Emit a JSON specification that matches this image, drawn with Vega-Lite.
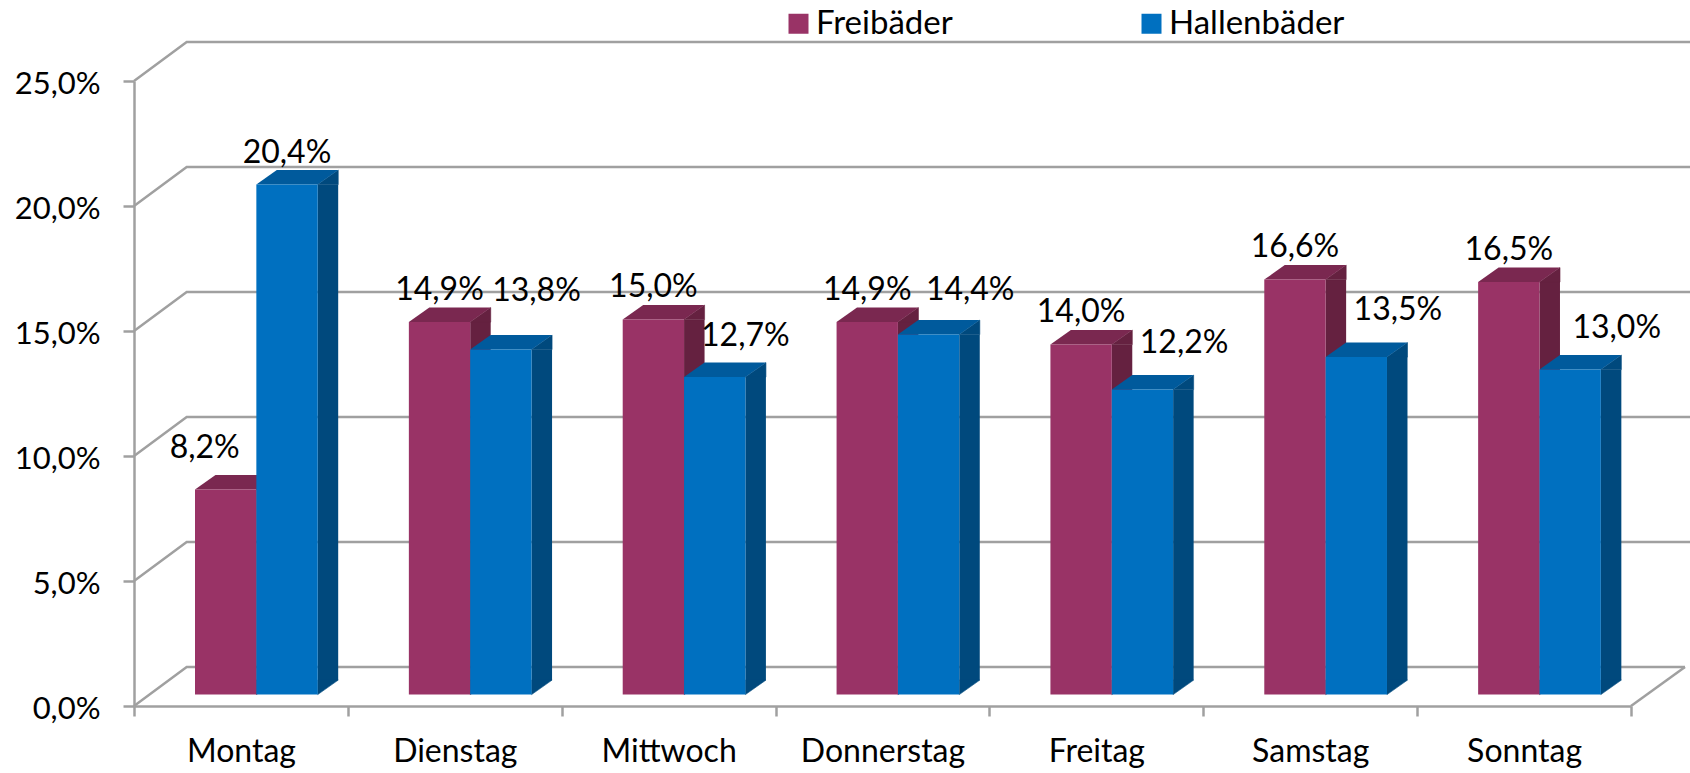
{
"$schema":"https://vega.github.io/schema/vega-lite/v6.json",
"width":1497,"height":625,
"autosize":{"type":"none"},
"padding":{"left":134,"right":59,"top":81,"bottom":67},
"background":"white",
"config":{"view":{"stroke":null},"font":"Lato"},
"data":{"values":[
{"day":"Montag","series":"Freibäder","share":8.2,"label":"8,2%"},
{"day":"Montag","series":"Hallenbäder","share":20.4,"label":"20,4%"},
{"day":"Dienstag","series":"Freibäder","share":14.9,"label":"14,9%"},
{"day":"Dienstag","series":"Hallenbäder","share":13.8,"label":"13,8%"},
{"day":"Mittwoch","series":"Freibäder","share":15.0,"label":"15,0%"},
{"day":"Mittwoch","series":"Hallenbäder","share":12.7,"label":"12,7%"},
{"day":"Donnerstag","series":"Freibäder","share":14.9,"label":"14,9%"},
{"day":"Donnerstag","series":"Hallenbäder","share":14.4,"label":"14,4%"},
{"day":"Freitag","series":"Freibäder","share":14.0,"label":"14,0%"},
{"day":"Freitag","series":"Hallenbäder","share":12.2,"label":"12,2%"},
{"day":"Samstag","series":"Freibäder","share":16.6,"label":"16,6%"},
{"day":"Samstag","series":"Hallenbäder","share":13.5,"label":"13,5%"},
{"day":"Sonntag","series":"Freibäder","share":16.5,"label":"16,5%"},
{"day":"Sonntag","series":"Hallenbäder","share":13.0,"label":"13,0%"}
]},
"encoding":{
"x":{"field":"day","type":"nominal","sort":null,"title":null,
 "scale":{"domain":["Montag","Dienstag","Mittwoch","Donnerstag","Freitag","Samstag","Sonntag"],"paddingInner":0,"paddingOuter":0},
 "axis":{"labelAngle":0,"labelFontSize":32,"labelColor":"black","labelPadding":20,"tickBand":"extent","tickSize":10,"tickWidth":2.5,"tickColor":"#A0A0A0","domainColor":"#A0A0A0","domainWidth":2.5,"grid":false}},
"y":{"field":"share","type":"quantitative","title":null,
 "scale":{"domain":[0,25],"nice":false},
 "axis":{"values":[0,5,10,15,20,25],"labelExpr":"replace(format(datum.value,'.1f'),'.',',')+'%'","labelFontSize":31,"labelColor":"black","labelPadding":23,"labelOffset":3,"tickSize":11,"tickWidth":2.5,"tickColor":"#A0A0A0","domainColor":"#A0A0A0","domainWidth":2.5,"grid":false}},
"xOffset":{"field":"series","type":"nominal","sort":null,"scale":{"type":"band","domain":["Freibäder","Hallenbäder"],"range":[61,183.7],"paddingInner":0,"paddingOuter":0}}
},
"layer":[
{"data":{"values":[{"share":5},{"share":10},{"share":15},{"share":20},{"share":25}]},
 "mark":{"type":"point","shape":"M0,0 L52.7,-39 L1556,-39","size":4,"filled":false,"stroke":"#A0A0A0","strokeWidth":2.5,"opacity":1},
 "encoding":{"x":{"datum":"Montag","type":"nominal","bandPosition":0},"xOffset":null}},
{"data":{"values":[{"share":0}]},
 "mark":{"type":"point","shape":"M0,0 L52.7,-39 L1551,-39","size":4,"filled":false,"stroke":"#A0A0A0","strokeWidth":2.5,"opacity":1},
 "encoding":{"x":{"datum":"Montag","type":"nominal","bandPosition":0},"xOffset":null}},
{"data":{"values":[{"share":0}]},
 "mark":{"type":"point","shape":"M0,0 L54,-39","size":4,"filled":false,"stroke":"#A0A0A0","strokeWidth":2.5,"opacity":1},
 "encoding":{"x":{"datum":"Sonntag","type":"nominal","bandPosition":1},"xOffset":null}},

{"transform":[{"filter":"datum.series==='Freibäder'"}],"mark":{"type":"rule","strokeWidth":20.5,"yOffset":-11.4,"y2Offset":-25.9,"stroke":"#652140"},
 "encoding":{"x":{"field":"day","type":"nominal","bandPosition":0.62},"xOffset":null,"y2":{"datum":0}}},
{"transform":[{"filter":"datum.series==='Freibäder'"}],"mark":{"type":"point","shape":"M30.7,0 L51.2,-14.5 L51.2,0 Z","size":4,"filled":true,"fill":"#652140","stroke":"#652140","strokeWidth":0.6,"opacity":1,"yOffset":-11.4}},
{"transform":[{"filter":"datum.series==='Freibäder'"}],"mark":{"type":"point","shape":"M30.7,0 L51.2,-14.5 L30.7,-14.5 Z","size":4,"filled":true,"fill":"#652140","stroke":"#652140","strokeWidth":0.6,"opacity":1,"yOffset":-11.4},
 "encoding":{"y":{"datum":0}}},
{"transform":[{"filter":"datum.series==='Freibäder'"}],"mark":{"type":"point","shape":"M-30.7,0 L30.7,0 L51.2,-14.5 L-10.2,-14.5 Z","size":4,"filled":true,"fill":"#7A2850","strokeWidth":0,"opacity":1,"yOffset":-11.4}},

{"transform":[{"filter":"datum.series==='Hallenbäder'"}],"mark":{"type":"rule","strokeWidth":20.5,"yOffset":-11.4,"y2Offset":-25.9,"stroke":"#00497D"},
 "encoding":{"x":{"field":"day","type":"nominal","bandPosition":0.9069},"xOffset":null,"y2":{"datum":0}}},
{"transform":[{"filter":"datum.series==='Hallenbäder'"}],"mark":{"type":"point","shape":"M30.7,0 L51.2,-14.5 L51.2,0 Z","size":4,"filled":true,"fill":"#00497D","stroke":"#00497D","strokeWidth":0.6,"opacity":1,"yOffset":-11.4}},
{"transform":[{"filter":"datum.series==='Hallenbäder'"}],"mark":{"type":"point","shape":"M30.7,0 L51.2,-14.5 L30.7,-14.5 Z","size":4,"filled":true,"fill":"#00497D","stroke":"#00497D","strokeWidth":0.6,"opacity":1,"yOffset":-11.4},
 "encoding":{"y":{"datum":0}}},
{"transform":[{"filter":"datum.series==='Hallenbäder'"}],"mark":{"type":"point","shape":"M-30.7,0 L30.7,0 L51.2,-14.5 L-10.2,-14.5 Z","size":4,"filled":true,"fill":"#005A9C","strokeWidth":0,"opacity":1,"yOffset":-11.4}},

{"mark":{"type":"bar","yOffset":-11.4,"y2Offset":-11.4},
 "encoding":{"y2":{"datum":0},
 "color":{"field":"series","type":"nominal","sort":null,"scale":{"domain":["Freibäder","Hallenbäder"],"range":["#993366","#0070C0"]},
 "legend":{"title":null,"orient":"none","direction":"horizontal","legendX":648,"legendY":-74,"symbolType":"square","symbolSize":400,"symbolStrokeWidth":0,"labelFontSize":33,"labelColor":"black","labelLimit":400,"labelOffset":1,"columnPadding":182,"padding":0,"columns":2}}}},

{"transform":[{"filter":"datum.series==='Freibäder' && datum.day!=='Montag'"}],"mark":{"type":"text","fontSize":32,"color":"black","baseline":"middle","align":"center","dx":0,"dy":-44},"encoding":{"text":{"field":"label"}}},
{"transform":[{"filter":"datum.series==='Freibäder' && datum.day==='Montag'"}],"mark":{"type":"text","fontSize":32,"color":"black","baseline":"middle","align":"center","dx":-21,"dy":-53},"encoding":{"text":{"field":"label"}}},
{"transform":[{"filter":"datum.series==='Hallenbäder' && datum.day==='Montag'"}],"mark":{"type":"text","fontSize":32,"color":"black","baseline":"middle","align":"center","dx":0,"dy":-43},"encoding":{"text":{"field":"label"}}},
{"transform":[{"filter":"datum.series==='Hallenbäder' && datum.day==='Dienstag'"}],"mark":{"type":"text","fontSize":32,"color":"black","baseline":"middle","align":"center","dx":35.6,"dy":-70},"encoding":{"text":{"field":"label"}}},
{"transform":[{"filter":"datum.series==='Hallenbäder' && datum.day==='Mittwoch'"}],"mark":{"type":"text","fontSize":32,"color":"black","baseline":"middle","align":"center","dx":30.6,"dy":-53},"encoding":{"text":{"field":"label"}}},
{"transform":[{"filter":"datum.series==='Hallenbäder' && datum.day==='Donnerstag'"}],"mark":{"type":"text","fontSize":32,"color":"black","baseline":"middle","align":"center","dx":41.6,"dy":-56},"encoding":{"text":{"field":"label"}}},
{"transform":[{"filter":"datum.series==='Hallenbäder' && (datum.day==='Freitag'||datum.day==='Samstag')"}],"mark":{"type":"text","fontSize":32,"color":"black","baseline":"middle","align":"center","dx":41.6,"dy":-58.5},"encoding":{"text":{"field":"label"}}},
{"transform":[{"filter":"datum.series==='Hallenbäder' && datum.day==='Sonntag'"}],"mark":{"type":"text","fontSize":32,"color":"black","baseline":"middle","align":"center","dx":46.6,"dy":-53},"encoding":{"text":{"field":"label"}}}
]
}
